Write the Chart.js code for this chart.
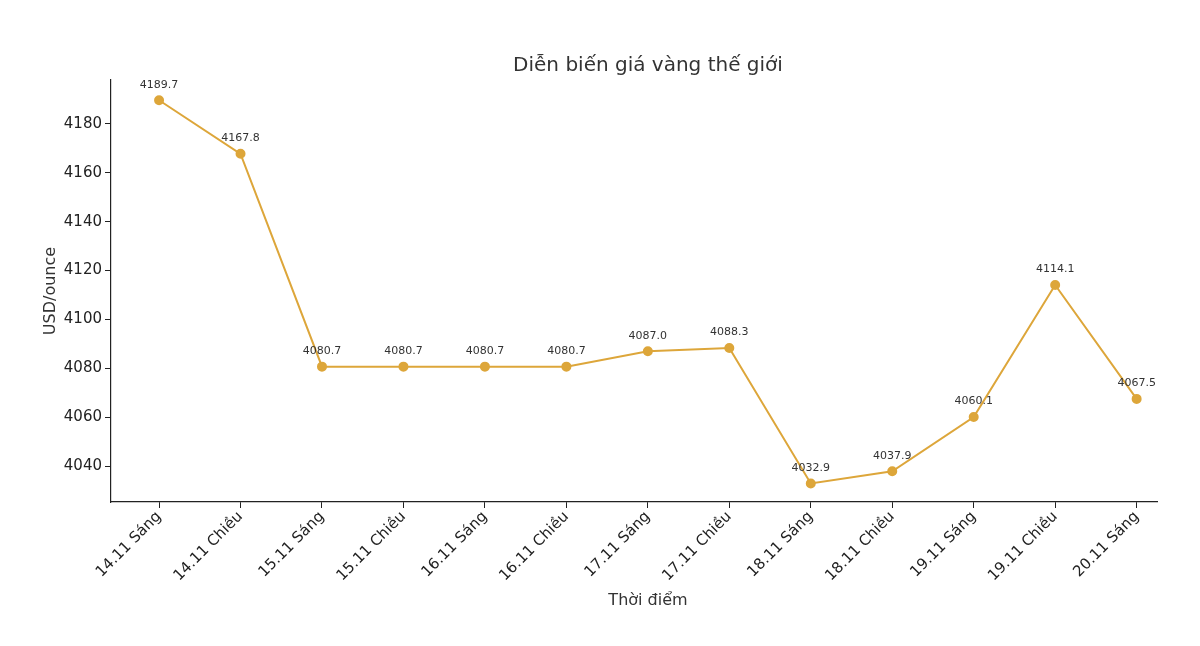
<!DOCTYPE html>
<html>
<head>
<meta charset="utf-8">
<script src="https://cdn.jsdelivr.net/npm/chart.js@4"></script>
<style>
  html, body { margin: 0; padding: 0; background: #fff; }
  #wrap { width: 1200px; height: 646px; }
</style>
</head>
<body>
<div id="wrap"><canvas id="c"></canvas></div>
<script>
const categories = ['14.11 Sáng', '14.11 Chiều', '15.11 Sáng', '15.11 Chiều', '16.11 Sáng', '16.11 Chiều',
  '17.11 Sáng', '17.11 Chiều', '18.11 Sáng', '18.11 Chiều', '19.11 Sáng', '19.11 Chiều', '20.11 Sáng'];
const prices = [4189.7, 4167.8, 4080.7, 4080.7, 4080.7, 4080.7, 4087.0, 4088.3, 4032.9, 4037.9, 4060.1, 4114.1, 4067.5];
const yTicks = [4040, 4060, 4080, 4100, 4120, 4140, 4160, 4180];

const FONT = 'DejaVu Sans';
const GOLD = '#DDA63A';

// point labels + titles drawn at plot-area positions
const labelsPlugin = {
  id: 'labels',
  afterDatasetsDraw(chart) {
    const ctx = chart.ctx;
    const meta = chart.getDatasetMeta(0);
    ctx.save();
    ctx.fillStyle = '#333';
    ctx.font = '11px ' + FONT;
    ctx.textAlign = 'center';
    ctx.textBaseline = 'bottom';
    meta.data.forEach((pt, i) => {
      ctx.fillText(prices[i].toFixed(1), pt.x, pt.y - 10);
    });
    const a = chart.chartArea;
    ctx.font = '20px ' + FONT;
    ctx.textBaseline = 'middle';
    ctx.fillText('Diễn biến giá vàng thế giới', 648, 66);
    ctx.font = '16px ' + FONT;
    ctx.fillText('Thời điểm', 648, 601);
    ctx.translate(51, (a.top + a.bottom) / 2);
    ctx.rotate(-Math.PI / 2);
    ctx.fillText('USD/ounce', 0, 0);
    ctx.restore();
  }
};

const tickGrid = { display: true, drawOnChartArea: false, drawTicks: true, tickLength: 6, tickColor: '#222', tickWidth: 1 };

new Chart(document.getElementById('c'), {
  type: 'line',
  data: {
    datasets: [{
      data: prices.map((v, i) => ({ x: i, y: v })),
      borderColor: GOLD,
      backgroundColor: GOLD,
      borderWidth: 2,
      pointRadius: 4,
      tension: 0
    }]
  },
  options: {
    responsive: true,
    maintainAspectRatio: false,
    animation: false,
    layout: { padding: { top: 80, right: 43, left: 0, bottom: 0 } },
    plugins: { legend: { display: false }, tooltip: { enabled: false } },
    scales: {
      x: {
        type: 'linear',
        min: -0.59,
        max: 12.25,
        afterFit(s) { s.height = 144; },
        afterBuildTicks(s) { s.ticks = categories.map((_, i) => ({ value: i })); },
        grid: tickGrid,
        border: { color: '#222', width: 1.2 },
        ticks: {
          color: '#222',
          font: { family: FONT, size: 15 },
          maxRotation: 45,
          minRotation: 45,
          autoSkip: false,
          padding: 0,
          callback: v => categories[v]
        }
      },
      y: {
        min: 4025.3,
        max: 4198,
        afterFit(s) { s.width = 111; },
        afterBuildTicks(s) { s.ticks = yTicks.map(v => ({ value: v })); },
        grid: tickGrid,
        border: { color: '#222', width: 1.2 },
        ticks: { color: '#222', font: { family: FONT, size: 15 }, callback: v => String(v) }
      }
    }
  },
  plugins: [labelsPlugin]
});
</script>
</body>
</html>
